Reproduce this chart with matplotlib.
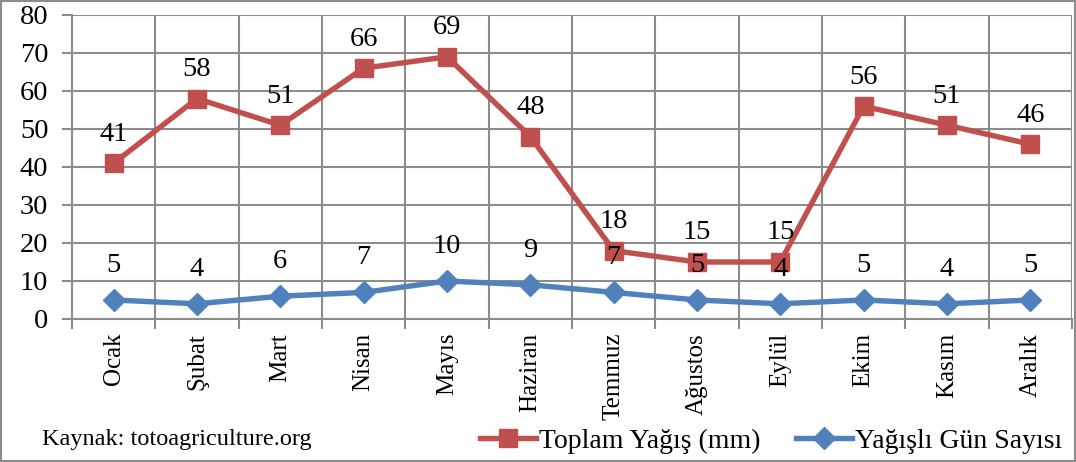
import matplotlib.pyplot as plt
from matplotlib.patches import Rectangle

months = ['Ocak', 'Şubat', 'Mart', 'Nisan', 'Mayıs', 'Haziran', 'Temmuz',
          'Ağustos', 'Eylül', 'Ekim', 'Kasım', 'Aralık']
rain_mm = [41, 58, 51, 66, 69, 48, 18, 15, 15, 56, 51, 46]
rain_days = [5, 4, 6, 7, 10, 9, 7, 5, 4, 5, 4, 5]

plt.rcParams['font.family'] = ['Liberation Serif', 'DejaVu Serif']

red = '#c0504d'
blue = '#4f81bd'
grid_c = '#8c8c8c'

fig = plt.figure(figsize=(10.76, 4.62), dpi=100)
ax = fig.add_axes([72 / 1076, 1 - 319 / 462, 1000 / 1076, 304 / 462])

x = list(range(len(months)))
ax.plot(x, rain_mm, color=red, lw=3.9, marker='s', ms=12.5, label='Toplam Yağış (mm)')
ax.plot(x, rain_days, color=blue, lw=3.9, marker='D', ms=11, label='Yağışlı Gün Sayısı')

for xi, v in zip(x, rain_mm):
    ax.annotate(str(v), (xi, v), xytext=(0, 12), textcoords='offset points',
                ha='center', va='bottom', fontsize=20.5)
for xi, v in zip(x, rain_days):
    ax.annotate(str(v), (xi, v), xytext=(0, 16), textcoords='offset points',
                ha='center', va='bottom', fontsize=20.5)

ax.set_xlim(-0.5, 11.5)
ax.set_ylim(0, 80)
ax.set_yticks(range(0, 81, 10))
ax.set_xticks(x)
ax.set_xticklabels(months, rotation=90, fontsize=18)
ax.set_xticks([i - 0.5 for i in range(13)], minor=True)
ax.tick_params(axis='x', which='major', length=0, pad=10)
ax.tick_params(axis='x', which='minor', length=7, color=grid_c, width=1.5)
ax.tick_params(axis='y', length=7, color=grid_c, width=1.5, labelsize=20.5, pad=10)
ax.grid(True, axis='y', color=grid_c, lw=1.5)
ax.grid(True, axis='x', which='minor', color=grid_c, lw=1.5)
ax.set_axisbelow(True)
for s in ax.spines.values():
    s.set_color(grid_c)
    s.set_linewidth(1.5)
ax.spines['top'].set_visible(False)
ax.spines['right'].set_visible(False)

leg = fig.legend(loc='center right', bbox_to_anchor=(1062 / 1076, 1 - 441 / 462), ncol=2,
                 frameon=False, borderpad=0, borderaxespad=0,
                 fontsize=20, handlelength=2.0, handletextpad=0.1, columnspacing=1.3)

fig.text(42 / 1076, 1 - 440 / 462, 'Kaynak: totoagriculture.org', fontsize=17.5, va='center')

fig.patches.append(Rectangle((0.001, 0.002), 0.998, 0.996, transform=fig.transFigure,
                             fill=False, edgecolor='#8c8c8c', lw=1.5))

fig.savefig('out.png', dpi=100)
